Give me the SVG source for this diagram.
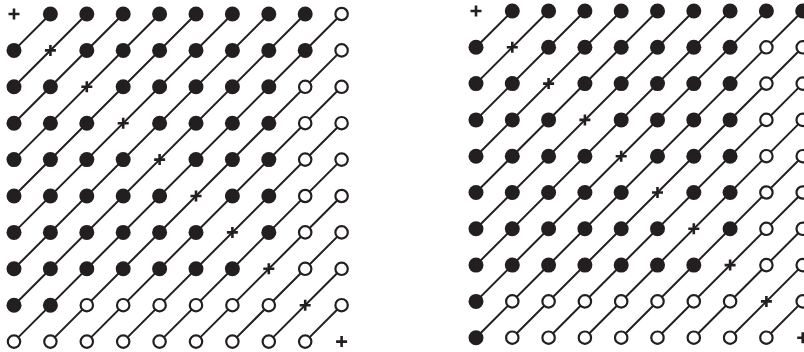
<svg xmlns="http://www.w3.org/2000/svg" xmlns:xlink="http://www.w3.org/1999/xlink" width="804" height="352" viewBox="0 0 804 352">
<style>
.bg{fill:#ffffff}
.ln{fill:none;stroke:#231f20;stroke-width:2;stroke-linecap:butt}
.f{fill:#231f20}
.o{fill:#ffffff;stroke:#231f20;stroke-width:2.2}
.p{fill:none;stroke:#231f20;stroke-width:2.6}
</style>
<defs>
<circle id="fd" class="f" cx="0" cy="0" r="7.5"/>
<circle id="od" class="o" cx="0" cy="0" r="6.2"/>
<path id="pl" class="p" d="M-5.5 0H5.5M0 -5.5V5.5"/>
</defs>
<rect class="bg" x="0" y="0" width="804" height="352"/>
<g id="connectors">
<path class="ln" transform="translate(14,14)" d="M0 36.4L36.4 0M0 72.8L72.8 0M0 109.2L109.2 0M0 145.6L145.6 0M0 182L182 0M0 218.4L218.4 0M0 254.8L254.8 0M0 291.2L291.2 0M0 327.6L327.6 0M36.4 327.6L327.6 36.4M72.8 327.6L327.6 72.8M109.2 327.6L327.6 109.2M145.6 327.6L327.6 145.6M182 327.6L327.6 182M218.4 327.6L327.6 218.4M254.8 327.6L327.6 254.8M291.2 327.6L327.6 291.2"/>
<path class="ln" transform="translate(476,11)" d="M0 36.3L36.3 0M0 72.6L72.6 0M0 108.9L108.9 0M0 145.2L145.2 0M0 181.5L181.5 0M0 217.8L217.8 0M0 254.1L254.1 0M0 290.4L290.4 0M0 326.7L326.7 0M36.3 326.7L326.7 36.3M72.6 326.7L326.7 72.6M108.9 326.7L326.7 108.9M145.2 326.7L326.7 145.2M181.5 326.7L326.7 181.5M217.8 326.7L326.7 217.8M254.1 326.7L326.7 254.1M290.4 326.7L326.7 290.4"/>
</g>
<g id="left-grid" transform="translate(14,14)">
<g id="L00"><use href="#pl" x="0" y="0"/></g>
<g id="L01"><use href="#fd" x="36.4" y="0"/></g>
<g id="L02"><use href="#fd" x="72.8" y="0"/></g>
<g id="L03"><use href="#fd" x="109.2" y="0"/></g>
<g id="L04"><use href="#fd" x="145.6" y="0"/></g>
<g id="L05"><use href="#fd" x="182" y="0"/></g>
<g id="L06"><use href="#fd" x="218.4" y="0"/></g>
<g id="L07"><use href="#fd" x="254.8" y="0"/></g>
<g id="L08"><use href="#fd" x="291.2" y="0"/></g>
<g id="L09"><use href="#od" x="327.6" y="0"/></g>
<g id="L10"><use href="#fd" x="0" y="36.4"/></g>
<g id="L11"><use href="#pl" x="36.4" y="36.4"/></g>
<g id="L12"><use href="#fd" x="72.8" y="36.4"/></g>
<g id="L13"><use href="#fd" x="109.2" y="36.4"/></g>
<g id="L14"><use href="#fd" x="145.6" y="36.4"/></g>
<g id="L15"><use href="#fd" x="182" y="36.4"/></g>
<g id="L16"><use href="#fd" x="218.4" y="36.4"/></g>
<g id="L17"><use href="#fd" x="254.8" y="36.4"/></g>
<g id="L18"><use href="#fd" x="291.2" y="36.4"/></g>
<g id="L19"><use href="#od" x="327.6" y="36.4"/></g>
<g id="L20"><use href="#fd" x="0" y="72.8"/></g>
<g id="L21"><use href="#fd" x="36.4" y="72.8"/></g>
<g id="L22"><use href="#pl" x="72.8" y="72.8"/></g>
<g id="L23"><use href="#fd" x="109.2" y="72.8"/></g>
<g id="L24"><use href="#fd" x="145.6" y="72.8"/></g>
<g id="L25"><use href="#fd" x="182" y="72.8"/></g>
<g id="L26"><use href="#fd" x="218.4" y="72.8"/></g>
<g id="L27"><use href="#fd" x="254.8" y="72.8"/></g>
<g id="L28"><use href="#od" x="291.2" y="72.8"/></g>
<g id="L29"><use href="#od" x="327.6" y="72.8"/></g>
<g id="L30"><use href="#fd" x="0" y="109.2"/></g>
<g id="L31"><use href="#fd" x="36.4" y="109.2"/></g>
<g id="L32"><use href="#fd" x="72.8" y="109.2"/></g>
<g id="L33"><use href="#pl" x="109.2" y="109.2"/></g>
<g id="L34"><use href="#fd" x="145.6" y="109.2"/></g>
<g id="L35"><use href="#fd" x="182" y="109.2"/></g>
<g id="L36"><use href="#fd" x="218.4" y="109.2"/></g>
<g id="L37"><use href="#fd" x="254.8" y="109.2"/></g>
<g id="L38"><use href="#od" x="291.2" y="109.2"/></g>
<g id="L39"><use href="#od" x="327.6" y="109.2"/></g>
<g id="L40"><use href="#fd" x="0" y="145.6"/></g>
<g id="L41"><use href="#fd" x="36.4" y="145.6"/></g>
<g id="L42"><use href="#fd" x="72.8" y="145.6"/></g>
<g id="L43"><use href="#fd" x="109.2" y="145.6"/></g>
<g id="L44"><use href="#pl" x="145.6" y="145.6"/></g>
<g id="L45"><use href="#fd" x="182" y="145.6"/></g>
<g id="L46"><use href="#fd" x="218.4" y="145.6"/></g>
<g id="L47"><use href="#fd" x="254.8" y="145.6"/></g>
<g id="L48"><use href="#od" x="291.2" y="145.6"/></g>
<g id="L49"><use href="#od" x="327.6" y="145.6"/></g>
<g id="L50"><use href="#fd" x="0" y="182"/></g>
<g id="L51"><use href="#fd" x="36.4" y="182"/></g>
<g id="L52"><use href="#fd" x="72.8" y="182"/></g>
<g id="L53"><use href="#fd" x="109.2" y="182"/></g>
<g id="L54"><use href="#fd" x="145.6" y="182"/></g>
<g id="L55"><use href="#pl" x="182" y="182"/></g>
<g id="L56"><use href="#fd" x="218.4" y="182"/></g>
<g id="L57"><use href="#fd" x="254.8" y="182"/></g>
<g id="L58"><use href="#od" x="291.2" y="182"/></g>
<g id="L59"><use href="#od" x="327.6" y="182"/></g>
<g id="L60"><use href="#fd" x="0" y="218.4"/></g>
<g id="L61"><use href="#fd" x="36.4" y="218.4"/></g>
<g id="L62"><use href="#fd" x="72.8" y="218.4"/></g>
<g id="L63"><use href="#fd" x="109.2" y="218.4"/></g>
<g id="L64"><use href="#fd" x="145.6" y="218.4"/></g>
<g id="L65"><use href="#fd" x="182" y="218.4"/></g>
<g id="L66"><use href="#pl" x="218.4" y="218.4"/></g>
<g id="L67"><use href="#fd" x="254.8" y="218.4"/></g>
<g id="L68"><use href="#od" x="291.2" y="218.4"/></g>
<g id="L69"><use href="#od" x="327.6" y="218.4"/></g>
<g id="L70"><use href="#fd" x="0" y="254.8"/></g>
<g id="L71"><use href="#fd" x="36.4" y="254.8"/></g>
<g id="L72"><use href="#fd" x="72.8" y="254.8"/></g>
<g id="L73"><use href="#fd" x="109.2" y="254.8"/></g>
<g id="L74"><use href="#fd" x="145.6" y="254.8"/></g>
<g id="L75"><use href="#fd" x="182" y="254.8"/></g>
<g id="L76"><use href="#fd" x="218.4" y="254.8"/></g>
<g id="L77"><use href="#pl" x="254.8" y="254.8"/></g>
<g id="L78"><use href="#od" x="291.2" y="254.8"/></g>
<g id="L79"><use href="#od" x="327.6" y="254.8"/></g>
<g id="L80"><use href="#fd" x="0" y="291.2"/></g>
<g id="L81"><use href="#fd" x="36.4" y="291.2"/></g>
<g id="L82"><use href="#od" x="72.8" y="291.2"/></g>
<g id="L83"><use href="#od" x="109.2" y="291.2"/></g>
<g id="L84"><use href="#od" x="145.6" y="291.2"/></g>
<g id="L85"><use href="#od" x="182" y="291.2"/></g>
<g id="L86"><use href="#od" x="218.4" y="291.2"/></g>
<g id="L87"><use href="#od" x="254.8" y="291.2"/></g>
<g id="L88"><use href="#pl" x="291.2" y="291.2"/></g>
<g id="L89"><use href="#od" x="327.6" y="291.2"/></g>
<g id="L90"><use href="#od" x="0" y="327.6"/></g>
<g id="L91"><use href="#od" x="36.4" y="327.6"/></g>
<g id="L92"><use href="#od" x="72.8" y="327.6"/></g>
<g id="L93"><use href="#od" x="109.2" y="327.6"/></g>
<g id="L94"><use href="#od" x="145.6" y="327.6"/></g>
<g id="L95"><use href="#od" x="182" y="327.6"/></g>
<g id="L96"><use href="#od" x="218.4" y="327.6"/></g>
<g id="L97"><use href="#od" x="254.8" y="327.6"/></g>
<g id="L98"><use href="#od" x="291.2" y="327.6"/></g>
<g id="L99"><use href="#pl" x="327.6" y="327.6"/></g>
</g>
<g id="right-grid" transform="translate(476,11)">
<g id="R00"><use href="#pl" x="0" y="0"/></g>
<g id="R01"><use href="#fd" x="36.3" y="0"/></g>
<g id="R02"><use href="#fd" x="72.6" y="0"/></g>
<g id="R03"><use href="#fd" x="108.9" y="0"/></g>
<g id="R04"><use href="#fd" x="145.2" y="0"/></g>
<g id="R05"><use href="#fd" x="181.5" y="0"/></g>
<g id="R06"><use href="#fd" x="217.8" y="0"/></g>
<g id="R07"><use href="#fd" x="254.1" y="0"/></g>
<g id="R08"><use href="#fd" x="290.4" y="0"/></g>
<g id="R09"><use href="#fd" x="326.7" y="0"/></g>
<g id="R10"><use href="#fd" x="0" y="36.3"/></g>
<g id="R11"><use href="#pl" x="36.3" y="36.3"/></g>
<g id="R12"><use href="#fd" x="72.6" y="36.3"/></g>
<g id="R13"><use href="#fd" x="108.9" y="36.3"/></g>
<g id="R14"><use href="#fd" x="145.2" y="36.3"/></g>
<g id="R15"><use href="#fd" x="181.5" y="36.3"/></g>
<g id="R16"><use href="#fd" x="217.8" y="36.3"/></g>
<g id="R17"><use href="#fd" x="254.1" y="36.3"/></g>
<g id="R18"><use href="#od" x="290.4" y="36.3"/></g>
<g id="R19"><use href="#od" x="326.7" y="36.3"/></g>
<g id="R20"><use href="#fd" x="0" y="72.6"/></g>
<g id="R21"><use href="#fd" x="36.3" y="72.6"/></g>
<g id="R22"><use href="#pl" x="72.6" y="72.6"/></g>
<g id="R23"><use href="#fd" x="108.9" y="72.6"/></g>
<g id="R24"><use href="#fd" x="145.2" y="72.6"/></g>
<g id="R25"><use href="#fd" x="181.5" y="72.6"/></g>
<g id="R26"><use href="#fd" x="217.8" y="72.6"/></g>
<g id="R27"><use href="#fd" x="254.1" y="72.6"/></g>
<g id="R28"><use href="#od" x="290.4" y="72.6"/></g>
<g id="R29"><use href="#od" x="326.7" y="72.6"/></g>
<g id="R30"><use href="#fd" x="0" y="108.9"/></g>
<g id="R31"><use href="#fd" x="36.3" y="108.9"/></g>
<g id="R32"><use href="#fd" x="72.6" y="108.9"/></g>
<g id="R33"><use href="#pl" x="108.9" y="108.9"/></g>
<g id="R34"><use href="#fd" x="145.2" y="108.9"/></g>
<g id="R35"><use href="#fd" x="181.5" y="108.9"/></g>
<g id="R36"><use href="#fd" x="217.8" y="108.9"/></g>
<g id="R37"><use href="#fd" x="254.1" y="108.9"/></g>
<g id="R38"><use href="#od" x="290.4" y="108.9"/></g>
<g id="R39"><use href="#od" x="326.7" y="108.9"/></g>
<g id="R40"><use href="#fd" x="0" y="145.2"/></g>
<g id="R41"><use href="#fd" x="36.3" y="145.2"/></g>
<g id="R42"><use href="#fd" x="72.6" y="145.2"/></g>
<g id="R43"><use href="#fd" x="108.9" y="145.2"/></g>
<g id="R44"><use href="#pl" x="145.2" y="145.2"/></g>
<g id="R45"><use href="#fd" x="181.5" y="145.2"/></g>
<g id="R46"><use href="#fd" x="217.8" y="145.2"/></g>
<g id="R47"><use href="#fd" x="254.1" y="145.2"/></g>
<g id="R48"><use href="#od" x="290.4" y="145.2"/></g>
<g id="R49"><use href="#od" x="326.7" y="145.2"/></g>
<g id="R50"><use href="#fd" x="0" y="181.5"/></g>
<g id="R51"><use href="#fd" x="36.3" y="181.5"/></g>
<g id="R52"><use href="#fd" x="72.6" y="181.5"/></g>
<g id="R53"><use href="#fd" x="108.9" y="181.5"/></g>
<g id="R54"><use href="#fd" x="145.2" y="181.5"/></g>
<g id="R55"><use href="#pl" x="181.5" y="181.5"/></g>
<g id="R56"><use href="#fd" x="217.8" y="181.5"/></g>
<g id="R57"><use href="#fd" x="254.1" y="181.5"/></g>
<g id="R58"><use href="#od" x="290.4" y="181.5"/></g>
<g id="R59"><use href="#od" x="326.7" y="181.5"/></g>
<g id="R60"><use href="#fd" x="0" y="217.8"/></g>
<g id="R61"><use href="#fd" x="36.3" y="217.8"/></g>
<g id="R62"><use href="#fd" x="72.6" y="217.8"/></g>
<g id="R63"><use href="#fd" x="108.9" y="217.8"/></g>
<g id="R64"><use href="#fd" x="145.2" y="217.8"/></g>
<g id="R65"><use href="#fd" x="181.5" y="217.8"/></g>
<g id="R66"><use href="#pl" x="217.8" y="217.8"/></g>
<g id="R67"><use href="#fd" x="254.1" y="217.8"/></g>
<g id="R68"><use href="#od" x="290.4" y="217.8"/></g>
<g id="R69"><use href="#od" x="326.7" y="217.8"/></g>
<g id="R70"><use href="#fd" x="0" y="254.1"/></g>
<g id="R71"><use href="#fd" x="36.3" y="254.1"/></g>
<g id="R72"><use href="#fd" x="72.6" y="254.1"/></g>
<g id="R73"><use href="#fd" x="108.9" y="254.1"/></g>
<g id="R74"><use href="#fd" x="145.2" y="254.1"/></g>
<g id="R75"><use href="#fd" x="181.5" y="254.1"/></g>
<g id="R76"><use href="#fd" x="217.8" y="254.1"/></g>
<g id="R77"><use href="#pl" x="254.1" y="254.1"/></g>
<g id="R78"><use href="#od" x="290.4" y="254.1"/></g>
<g id="R79"><use href="#od" x="326.7" y="254.1"/></g>
<g id="R80"><use href="#fd" x="0" y="290.4"/></g>
<g id="R81"><use href="#od" x="36.3" y="290.4"/></g>
<g id="R82"><use href="#od" x="72.6" y="290.4"/></g>
<g id="R83"><use href="#od" x="108.9" y="290.4"/></g>
<g id="R84"><use href="#od" x="145.2" y="290.4"/></g>
<g id="R85"><use href="#od" x="181.5" y="290.4"/></g>
<g id="R86"><use href="#od" x="217.8" y="290.4"/></g>
<g id="R87"><use href="#od" x="254.1" y="290.4"/></g>
<g id="R88"><use href="#pl" x="290.4" y="290.4"/></g>
<g id="R89"><use href="#od" x="326.7" y="290.4"/></g>
<g id="R90"><use href="#fd" x="0" y="326.7"/></g>
<g id="R91"><use href="#od" x="36.3" y="326.7"/></g>
<g id="R92"><use href="#od" x="72.6" y="326.7"/></g>
<g id="R93"><use href="#od" x="108.9" y="326.7"/></g>
<g id="R94"><use href="#od" x="145.2" y="326.7"/></g>
<g id="R95"><use href="#od" x="181.5" y="326.7"/></g>
<g id="R96"><use href="#od" x="217.8" y="326.7"/></g>
<g id="R97"><use href="#od" x="254.1" y="326.7"/></g>
<g id="R98"><use href="#od" x="290.4" y="326.7"/></g>
<g id="R99"><use href="#pl" x="326.7" y="326.7"/></g>
</g>
</svg>
